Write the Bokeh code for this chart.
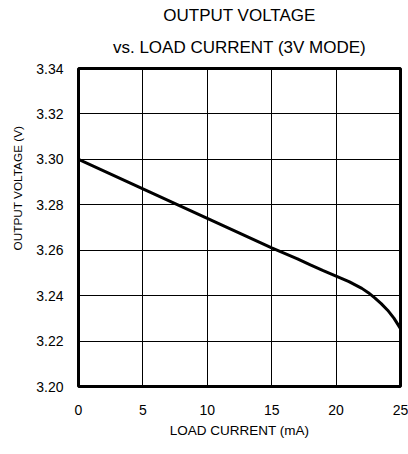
from bokeh.plotting import figure
from bokeh.models import Title, FixedTicker, CustomJSTickFormatter
from bokeh.embed import file_html
from bokeh.resources import INLINE

# Data
load_current = [0, 5, 10, 15, 17, 18, 19, 20, 21, 22, 22.5, 23, 23.5, 24, 24.5, 25]
output_voltage = [3.300, 3.287, 3.274, 3.261, 3.2562, 3.2535, 3.251, 3.2486,
                  3.2462, 3.2432, 3.2413, 3.2390, 3.2365, 3.2336, 3.2300, 3.2255]
x_ticks = [0, 5, 10, 15, 20, 25]
y_ticks = [3.20, 3.22, 3.24, 3.26, 3.28, 3.30, 3.32, 3.34]
title_lines = ["OUTPUT VOLTAGE", "vs. LOAD CURRENT (3V MODE)"]
x_label = "LOAD CURRENT (mA)"
y_label = "OUTPUT VOLTAGE (V)"

FONT = "Liberation Sans"

p = figure(width=408, height=454, output_backend="svg", toolbar_location=None,
           x_range=(x_ticks[0], x_ticks[-1]), y_range=(y_ticks[0], y_ticks[-1]),
           min_border_left=78, min_border_right=8, min_border_top=68, min_border_bottom=68)

p.outline_line_color = "black"
p.outline_line_width = 3

p.line(load_current, output_voltage, line_color="black", line_width=3)

for ax, ticks in ((p.xaxis, x_ticks), (p.yaxis, y_ticks)):
    ax.ticker = FixedTicker(ticks=ticks)
    ax.axis_line_color = None
    ax.major_tick_line_color = None
    ax.minor_tick_line_color = None
    ax.major_tick_out = 0
    ax.major_tick_in = 0
    ax.minor_tick_out = 0
    ax.major_label_text_font = FONT
    ax.major_label_text_font_size = "14px"
    ax.major_label_text_color = "black"

p.yaxis.formatter = CustomJSTickFormatter(code="return tick.toFixed(2);")
p.yaxis.major_label_standoff = 15
p.xaxis.major_label_standoff = 18

p.xaxis.axis_label = x_label
p.xaxis.axis_label_text_font = FONT
p.xaxis.axis_label_text_font_size = "13.5px"
p.xaxis.axis_label_text_font_style = "normal"
p.xaxis.axis_label_text_color = "black"
p.xaxis.axis_label_standoff = 5

# y-axis title, placed off-centre like the reference
p.add_layout(Title(text=y_label, align="left", offset=136, text_font=FONT,
                   text_font_size="11.8px", text_font_style="normal",
                   text_color="black", standoff=17), "left")

p.xgrid.grid_line_color = "black"
p.ygrid.grid_line_color = "black"
p.xgrid.grid_line_width = 1
p.ygrid.grid_line_width = 1
p.xgrid.ticker = FixedTicker(ticks=x_ticks)
p.ygrid.ticker = FixedTicker(ticks=y_ticks)

p.add_layout(Title(text=title_lines[1], align="center", text_font=FONT,
                   text_font_size="17px", text_font_style="normal",
                   text_color="black", standoff=23), "above")
p.add_layout(Title(text=title_lines[0], align="center", text_font=FONT,
                   text_font_size="17px", text_font_style="normal",
                   text_color="black", standoff=0), "above")

open("out.html", "w").write(file_html(p, INLINE))
